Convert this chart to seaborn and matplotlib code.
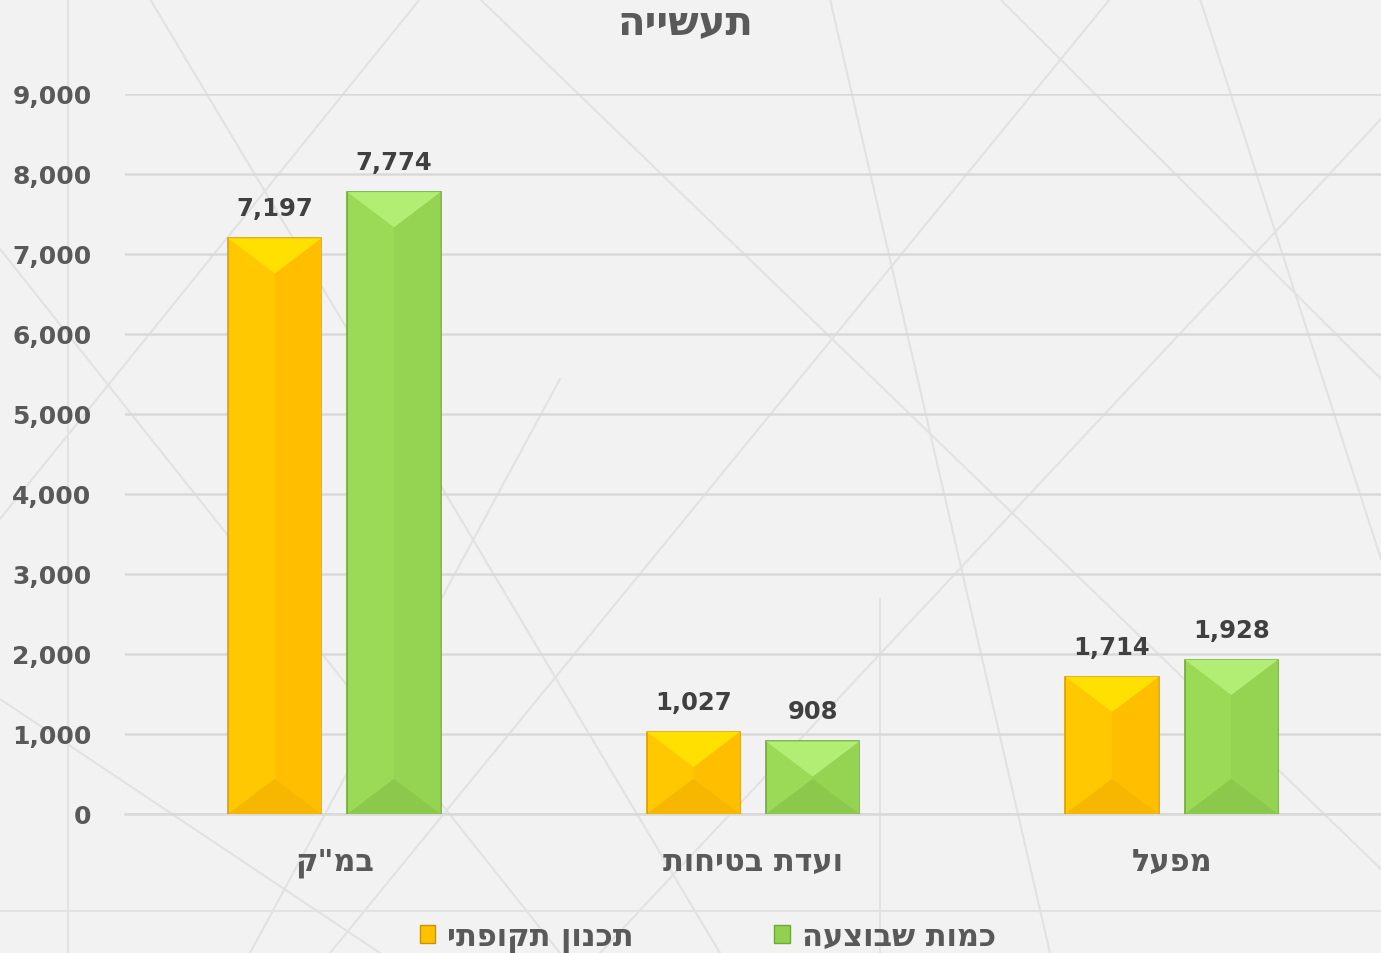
import pandas as pd
import matplotlib.pyplot as plt
import seaborn as sns
from matplotlib.patches import Polygon
from matplotlib.lines import Line2D
from matplotlib.ticker import FuncFormatter

# chart data
title = "תעשייה"
categories = ["במ\"ק", "ועדת בטיחות", "מפעל"]
series_names = ["תכנון תקופתי", "כמות שבוצעה"]
planned = [7197, 1027, 1714]
done = [7774, 908, 1928]

def heb(s):
    # matplotlib has no bidi support, so flip hebrew strings for display
    return s[::-1]

df = pd.DataFrame({
    "category": [heb(c) for c in categories] * 2,
    "series": [heb(series_names[0])] * 3 + [heb(series_names[1])] * 3,
    "value": planned + done,
})

sns.set_style("white")
plt.rcParams["font.family"] = ["DejaVu Sans"]
plt.rcParams["font.weight"] = "bold"

bg = "#f2f2f2"
fig = plt.figure(figsize=(13.81, 9.54), dpi=100, facecolor=bg)
ax = fig.add_axes([125 / 1381, 1 - 815 / 954, 1 - 125 / 1381, (815 - 95) / 954])
ax.set_facecolor("none")

# faint decorative background lines (figure pixel coords)
deco = [
    ((68, 0), (68, 954)), ((880, 600), (880, 954)), ((0, 912), (1381, 912)),
    ((150, 0), (720, 954)), ((480, 0), (1381, 870)), ((1110, 0), (330, 954)),
    ((1000, 0), (1381, 380)), ((1381, 120), (600, 954)), ((0, 250), (560, 954)),
    ((420, 0), (0, 520)), ((1200, 0), (1381, 560)), ((0, 700), (380, 954)),
    ((830, 0), (1050, 954)), ((250, 954), (560, 380)),
]
for (x0, y0), (x1, y1) in deco:
    fig.add_artist(Line2D([x0 / 1381, x1 / 1381], [1 - y0 / 954, 1 - y1 / 954],
                          transform=fig.transFigure, color="#e2e2e2", lw=1.5,
                          zorder=0))

colors = ["#FFC000", "#92D050"]
sns.barplot(data=df, x="category", y="value", hue="series",
            palette=colors, width=0.57, gap=0.22, ax=ax, zorder=3,
            edgecolor="none")

ax.set_xlim(-0.5, 2.5)
ax.set_ylim(0, 9000)
ax.set_yticks(range(0, 9001, 1000))
ax.yaxis.set_major_formatter(FuncFormatter(lambda v, p: f"{v:,.0f}"))
ax.grid(axis="y", color="#d9d9d9", lw=1.8, zorder=0)
ax.set_axisbelow(True)
for sp in ["top", "left", "right"]:
    ax.spines[sp].set_visible(False)
ax.spines["bottom"].set_color("#d9d9d9")
ax.spines["bottom"].set_linewidth(1.8)
ax.tick_params(axis="y", length=0, pad=24, labelsize=18, labelcolor="#595959")
ax.tick_params(axis="x", length=0, pad=24, labelsize=22, labelcolor="#595959")
ax.set_xlabel("")
ax.set_ylabel("")

# bevel shading on each bar
shades = {
    "#FFC000": ("#FFE000", "#FFC800", "#FFBF00", "#F7B600", "#D9A000"),
    "#92D050": ("#B2EE74", "#9BDA57", "#95D452", "#8BC84B", "#72A83C"),
}
for cont, base in zip(ax.containers, colors):
    top, left, right, bottom, edge = shades[base]
    for bar in cont:
        x0, y0 = bar.get_x(), bar.get_y()
        w, h = bar.get_width(), bar.get_height()
        x1, y1, xc = x0 + w, y0 + h, x0 + w / 2
        d = min(440, h / 2)
        bar.set_facecolor(left)
        bar.set_edgecolor(edge)
        bar.set_linewidth(1.2)
        for pts, c in [
            ([(x1, y0), (x1, y1), (xc, y1 - d), (xc, y0 + d)], right),
            ([(x0, y1), (x1, y1), (xc, y1 - d)], top),
            ([(x0, y0), (x1, y0), (xc, y0 + d)], bottom),
        ]:
            ax.add_patch(Polygon(pts, closed=True, facecolor=c, edgecolor="none",
                                 zorder=3.5))
    ax.bar_label(cont, labels=[f"{v.get_height():,.0f}" for v in cont],
                 padding=13, fontsize=17.5, fontweight="bold", color="#404040")

ax.legend_.remove()
handles = [plt.Rectangle((0, 0), 1, 1, facecolor=c, edgecolor=e)
           for c, e in zip(colors, ["#C89400", "#6FA83A"])]
fig.legend(handles, [heb(s) for s in series_names], loc="center",
           bbox_to_anchor=(708 / 1381, 1 - 938 / 954), ncol=2, frameon=False,
           fontsize=22, labelcolor="#595959", handlelength=0.5, handleheight=0.5,
           handletextpad=0.4, columnspacing=4.6)

fig.text(685 / 1381, 1 - 23 / 954, heb(title), ha="center", va="center",
         fontsize=29, fontweight="bold", color="#595959")

fig.savefig("out.png", dpi=100, facecolor=bg)
